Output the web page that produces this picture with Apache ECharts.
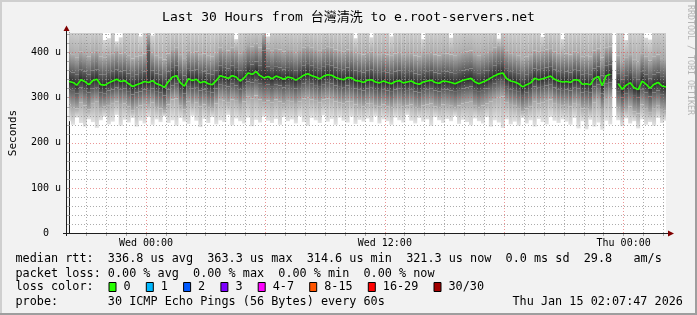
<!DOCTYPE html>
<html><head><meta charset="utf-8">
<script src="https://cdn.jsdelivr.net/npm/echarts@6/dist/echarts.min.js"></script>
<style>html,body{margin:0;padding:0;background:#f2f2f2}#c{width:697px;height:315px}</style>
</head><body><div id="c"></div><script>
// time axis: hours since Tue Jan 13 00:00; window = Tue 20:07:47 .. Thu 02:07:47
const START_H = 20 + 7/60 + 47/3600;
const STEP_H = 0.2;            // one sample every 12 minutes
const END_H = START_H + 30;
const Y_MAX = 443.6;           // microseconds

// median RTT (us)
const medianRtt = [
336,334,328,340,336,329,338,341,329,328,
333,337,341,336,338,331,325,329,332,336,
334,338,331,328,323,336,346,349,333,326,
342,338,341,333,336,331,329,338,349,346,
343,349,346,337,344,355,352,358,349,344,
347,342,348,345,341,346,344,339,344,350,
353,349,346,342,348,351,350,345,342,340,
345,344,338,337,334,339,340,335,333,337,
334,331,336,338,333,335,337,332,330,335,
337,339,334,332,337,336,334,331,335,339,
341,343,335,331,335,339,344,349,353,355,
342,337,335,331,324,329,333,343,340,342,
345,348,341,337,335,336,334,340,339,330,
331,329,343,347,327,349,352,null,331,319,
328,333,322,318,337,330,321,330,334,326,
324];

// smoke: lowest ping (us)
const smokeMin = [
248,240,256,244,236,252,246,233,250,258,
241,247,262,238,251,245,255,236,249,243,
257,240,252,246,259,244,250,238,255,247,
242,260,249,235,253,244,257,241,250,246,
262,239,254,248,243,256,237,251,245,258,
249,244,253,240,257,248,252,243,259,246,
238,255,250,244,261,247,253,240,256,249,
245,258,242,251,247,254,246,259,243,252,
248,240,256,250,245,262,249,243,255,247,
252,238,257,250,244,253,248,259,242,251,
246,239,254,248,243,257,236,250,245,233,
252,241,247,238,255,243,250,236,253,246,
241,257,249,244,252,247,240,255,232,248,
230,251,236,245,229,249,241,null,250,237,
254,243,248,232,252,240,246,238,255,244,
249];

// smoke: ~3rd ping
const smokeP10 = [
285,279,276,290,283,274,288,291,277,280,
282,288,292,284,287,280,272,278,283,286,
284,289,279,276,271,285,296,298,282,274,
291,286,290,281,285,279,277,287,297,294,
290,296,293,284,292,302,299,305,296,290,
294,289,296,292,287,293,291,286,292,298,
300,296,293,289,296,298,297,292,289,287,
292,291,285,284,281,287,288,282,280,285,
281,278,284,286,280,283,285,279,277,283,
285,287,281,279,285,284,282,278,283,287,
289,291,282,278,283,287,292,297,301,303,
290,284,282,277,270,276,280,291,287,290,
293,296,288,284,282,284,281,288,286,276,
277,275,290,295,273,297,300,null,278,266,
275,281,269,265,285,277,268,277,282,273,
271];

// smoke: ~9th ping
const smokeP30 = [
318,317,310,323,317,312,320,322,311,310,
316,318,323,319,320,313,307,312,314,318,
317,320,313,311,305,318,327,331,315,309,
324,321,322,316,318,313,312,320,330,328,
325,331,327,319,326,336,334,339,331,326,
329,324,330,327,323,328,326,321,326,332,
335,331,328,324,330,333,332,327,324,322,
327,326,320,319,316,321,322,317,315,319,
316,313,318,320,315,317,319,314,312,317,
319,321,316,314,319,318,316,313,317,321,
323,325,317,313,317,321,326,331,335,337,
324,319,317,313,306,311,315,325,322,324,
327,330,323,319,317,318,316,322,321,312,
313,311,325,329,309,331,334,null,313,301,
310,315,304,300,319,312,303,312,316,308,
306];

// smoke: ~21st ping
const smokeP70 = [
358,356,351,362,358,352,360,363,352,351,
355,359,363,358,360,354,348,352,355,358,
405,360,354,351,346,358,368,371,355,349,
364,360,363,355,358,354,352,360,371,368,
365,371,368,360,366,377,374,380,371,405,
369,364,370,367,363,368,366,361,366,372,
375,371,368,364,370,373,372,367,364,362,
367,366,360,359,356,361,362,357,355,359,
356,353,358,360,355,357,359,354,352,357,
359,361,356,354,359,358,356,353,357,361,
363,365,357,353,357,361,366,371,375,377,
364,359,357,353,346,351,355,365,362,364,
367,370,363,359,357,358,356,362,361,352,
353,351,365,369,349,371,374,null,353,341,
350,355,344,340,359,352,343,352,356,348,
346];

// smoke: ~27th ping
const smokeP90 = [
398,395,390,402,397,391,400,404,392,390,
395,399,404,398,400,393,387,392,394,398,
440,400,393,390,385,398,408,412,395,388,
404,400,403,395,398,393,391,400,411,408,
405,411,408,399,406,417,414,420,411,440,
409,404,410,407,403,408,406,401,406,412,
415,411,408,404,410,413,412,407,404,402,
407,406,400,399,396,401,402,397,395,399,
396,393,398,400,395,397,399,394,392,397,
399,401,396,394,399,398,396,393,397,401,
403,405,397,393,397,401,406,411,415,417,
404,399,397,393,386,391,395,405,402,404,
407,410,403,399,397,398,396,402,401,392,
393,391,405,409,389,411,414,null,393,381,
390,395,384,380,399,392,383,392,396,388,
386];

// smoke: highest ping (us), above the top are clipped
const smokeMax = [
460,460,460,460,460,460,460,460,460,428,
432,460,425,434,460,460,460,460,436,460,
460,438,460,460,460,460,460,460,460,460,
460,460,460,460,460,460,460,460,460,460,
460,460,430,460,460,460,460,460,460,460,
436,460,460,460,460,460,460,460,460,460,
460,460,460,460,460,460,460,460,460,460,
460,460,432,460,460,460,434,460,460,460,
460,436,460,460,460,460,460,460,460,430,
460,460,460,460,460,460,433,460,460,460,
460,460,460,460,460,460,460,460,431,460,
460,460,460,460,460,460,460,460,460,435,
460,460,460,460,430,460,460,460,460,460,
460,460,460,460,460,460,460,null,460,460,
428,460,460,460,460,433,429,460,460,460,
460];

const yMajorTicks = [0, 100, 200, 300, 400];
const yTickLabels = ['0  ', '100 u', '200 u', '300 u', '400 u'];
const xLabelHours = [24, 36, 48];
const xTickLabels = ['Wed 00:00', 'Wed 12:00', 'Thu 00:00'];

const lossLabels = ['0', '1', '2', '3', '4-7', '8-15', '16-29', '30/30'];
const lossColors = ['#26ff00', '#00b8ff', '#0059ff', '#7e00ff', '#ff00ff', '#ff5500', '#ff0000', '#a10000'];

const statsLine1 = 'median rtt:  336.8 us avg  363.3 us max  314.6 us min  321.3 us now  0.0 ms sd  29.8   am/s';
const statsLine2 = 'packet loss: 0.00 % avg  0.00 % max  0.00 % min  0.00 % now';
const statsLine3 = 'loss color:';
const statsLine4 = 'probe:       30 ICMP Echo Pings (56 Bytes) every 60s';
const stampText = 'Thu Jan 15 02:07:47 2026';
const titleText = 'Last 30 Hours from 台灣清洗 to e.root-servers.net';

// ---------------------------------------------------------------
const MONO = "'DejaVu Sans Mono', 'Noto Sans CJK TC', monospace";
const GRID = 'rgba(143,143,143,0.75)';
const MGRID = 'rgba(222,79,79,0.6)';
const AXIS = '#1f1f1f';
const ARROW = '#800000';
// shade at: min, p10, p30, median, p70, p90, max
const SHADE = ['#e2e2e2', '#a9a9a9', '#5c5c5c', '#2e2e2e', '#5e5e5e', '#aaaaaa', '#d6d6d6'];

const n = Math.min(medianRtt.length, smokeMin.length, smokeP10.length, smokeP30.length,
                   smokeP70.length, smokeP90.length, smokeMax.length);
const medData = [], smokeData = [];
for (let i = 0; i < n; i++) {
  const x = START_H + i * STEP_H;
  medData.push([x, medianRtt[i]]);
  smokeData.push([x, smokeMin[i], smokeP10[i], smokeP30[i], medianRtt[i], smokeP70[i], smokeP90[i], smokeMax[i]]);
}

const yTickValues = [];
for (let v = 0; v <= Y_MAX; v += 20) yTickValues.push(v);
const hourTicks = [];
for (let h = Math.ceil(START_H); h <= END_H; h++) hourTicks.push(h);

const gridLines = [];
yTickValues.forEach(v => { if (v > 0) gridLines.push({ yAxis: v, lineStyle: { color: v % 100 === 0 ? MGRID : GRID, type: [1, 2], width: 1 } }); });
hourTicks.forEach(h => gridLines.push({ xAxis: h, lineStyle: { color: h % 6 === 0 ? MGRID : GRID, type: [1, 2], width: 1 } }));

function mix(a, b, t) {
  const pa = parseInt(a.slice(1), 16), pb = parseInt(b.slice(1), 16);
  const ch = s => Math.round(((pa >> s) & 255) * (1 - t) + ((pb >> s) & 255) * t);
  return 'rgb(' + ch(16) + ',' + ch(8) + ',' + ch(0) + ')';
}
function renderSmoke(params, api) {
  const vals = [1, 2, 3, 4, 5, 6, 7].map(k => api.value(k));
  if (vals.some(v => v == null || isNaN(v))) return;
  const x = api.value(0);
  const cs = params.coordSys;
  const w = api.size([STEP_H, 0])[0];
  const cx = api.coord([x, 0])[0];
  const xl = Math.max(cx - w / 2, cs.x), xr = Math.min(cx + w / 2, cs.x + cs.width);
  const top = cs.y, bottom = cs.y + cs.height;
  const py = v => api.coord([x, v])[1];
  const children = [];
  for (let k = 0; k < 6; k++) {
    const lo = vals[k], hi = vals[k + 1];
    const yHiRaw = py(hi), yLoRaw = py(lo);
    const y1 = Math.max(yHiRaw, top), y0 = Math.min(yLoRaw, bottom);
    if (y0 - y1 <= 0) continue;
    let topColor = SHADE[k + 1];
    if (yHiRaw < top) {
      const t = (yLoRaw - top) / (yLoRaw - yHiRaw);
      topColor = mix(SHADE[k], SHADE[k + 1], t);
    }
    children.push({ type: 'rect', shape: { x: xl, y: y1, width: xr - xl, height: y0 - y1 },
      style: { fill: { type: 'linear', x: 0, y: 0, x2: 0, y2: 1, global: false,
        colorStops: [{ offset: 0, color: topColor }, { offset: 1, color: SHADE[k] }] } } });
  }
  return { type: 'group', children };
}

// legend graphics
const graphics = [
  { type: 'rect', shape: { x: 0, y: 0, width: 697, height: 2 }, style: { fill: '#cfcfcf' }, silent: true },
  { type: 'rect', shape: { x: 0, y: 0, width: 2, height: 315 }, style: { fill: '#cfcfcf' }, silent: true },
  { type: 'rect', shape: { x: 695, y: 0, width: 2, height: 315 }, style: { fill: '#9e9e9e' }, silent: true },
  { type: 'rect', shape: { x: 0, y: 313, width: 697, height: 2 }, style: { fill: '#9e9e9e' }, silent: true },
  { type: 'line', shape: { x1: 63, y1: 233.5, x2: 669, y2: 233.5 }, style: { stroke: AXIS, lineWidth: 1 }, z: 20 },
  { type: 'line', shape: { x1: 66.5, y1: 236, x2: 66.5, y2: 29 }, style: { stroke: AXIS, lineWidth: 1 }, z: 20 },
  { type: 'polygon', shape: { points: [[668, 230.5], [674, 233.5], [668, 236.5]] }, style: { fill: ARROW }, z: 21 },
  { type: 'polygon', shape: { points: [[63.5, 31], [66.5, 25.5], [69.5, 31]] }, style: { fill: ARROW }, z: 21 },
  { type: 'text', x: 690, y: 5, rotation: -Math.PI / 2,
    style: { text: 'RRDTOOL / TOBI OETIKER', fontFamily: MONO, fontSize: 8.3, fill: '#b4b4b4', align: 'left', verticalAlign: 'middle' } },
  { type: 'text', style: { text: statsLine1, x: 15.5, y: 259.3, fontFamily: MONO, fontSize: 11.8, fill: '#000', verticalAlign: 'middle' } },
  { type: 'text', style: { text: statsLine2, x: 15.5, y: 273.5, fontFamily: MONO, fontSize: 11.8, fill: '#000', verticalAlign: 'middle' } },
  { type: 'text', style: { text: statsLine3, x: 15.5, y: 286.8, fontFamily: MONO, fontSize: 11.8, fill: '#000', verticalAlign: 'middle' } },
  { type: 'text', style: { text: statsLine4, x: 15.5, y: 301.7, fontFamily: MONO, fontSize: 11.8, fill: '#000', verticalAlign: 'middle' } },
  { type: 'text', style: { text: stampText, x: 512.5, y: 301.7, fontFamily: MONO, fontSize: 11.8, fill: '#000', verticalAlign: 'middle' } }
];
let bx = 108.5;
lossLabels.forEach((lab, k) => {
  graphics.push({ type: 'rect', shape: { x: bx + 0.5, y: 282.5, width: 7, height: 9 }, style: { fill: lossColors[k], stroke: '#000', lineWidth: 1 } });
  graphics.push({ type: 'text', style: { text: lab, x: bx + 15, y: 286.8, fontFamily: MONO, fontSize: 11.8, fill: '#000', verticalAlign: 'middle' } });
  bx += 15 + lab.length * 7.1 + 15.2;
});

const chart = echarts.init(document.getElementById('c'), null, { renderer: 'canvas' });
chart.setOption({
  animation: false,
  backgroundColor: '#f2f2f2',
  title: { text: titleText, left: 'center', top: 6,
    textStyle: { fontFamily: MONO, fontSize: 13, fontWeight: 'normal', color: '#000' } },
  grid: { left: 66, right: 31, top: 33, bottom: 82, show: true, backgroundColor: '#ffffff', borderWidth: 0 },
  xAxis: {
    type: 'value', min: START_H, max: END_H,
    axisLine: { show: true, lineStyle: { color: AXIS } },
    axisTick: { show: true, customValues: hourTicks, length: 3, lineStyle: { color: GRID } },
    axisLabel: { customValues: xLabelHours, margin: 5, fontFamily: MONO, fontSize: 10, color: '#000',
      formatter: v => { const k = xLabelHours.indexOf(Math.round(v)); return k >= 0 ? xTickLabels[k] : ''; } },
    splitLine: { show: false }
  },
  yAxis: {
    type: 'value', min: 0, max: Y_MAX, interval: 100,
    name: 'Seconds', nameLocation: 'middle', nameGap: 50,
    nameTextStyle: { fontFamily: MONO, fontSize: 11, color: '#000' },
    axisLine: { show: true, lineStyle: { color: AXIS } },
    axisTick: { show: true, customValues: yTickValues, length: 2, lineStyle: { color: GRID } },
    axisLabel: { customValues: yMajorTicks, margin: 8, fontFamily: MONO, fontSize: 10, color: '#000',
      formatter: v => { const k = yMajorTicks.indexOf(Math.round(v)); return k >= 0 ? yTickLabels[k] : ''; } },
    splitLine: { show: false }
  },
  graphic: graphics,
  series: [
    { type: 'custom', name: 'smoke', z: 1, data: smokeData, renderItem: renderSmoke,
      encode: { x: 0, y: [1, 2, 3, 4, 5, 6, 7] }, silent: true },
    { type: 'line', name: 'grid', z: 3, data: [], silent: true,
      markLine: { silent: true, symbol: ['none', 'none'], label: { show: false }, z: 3,
        emphasis: { disabled: true }, animation: false, data: gridLines } },
    { type: 'line', name: 'median', z: 6, data: medData, symbol: 'none', connectNulls: false,
      lineStyle: { color: '#26ff00', width: 1.6 }, silent: true }
  ]
});
</script></body></html>
